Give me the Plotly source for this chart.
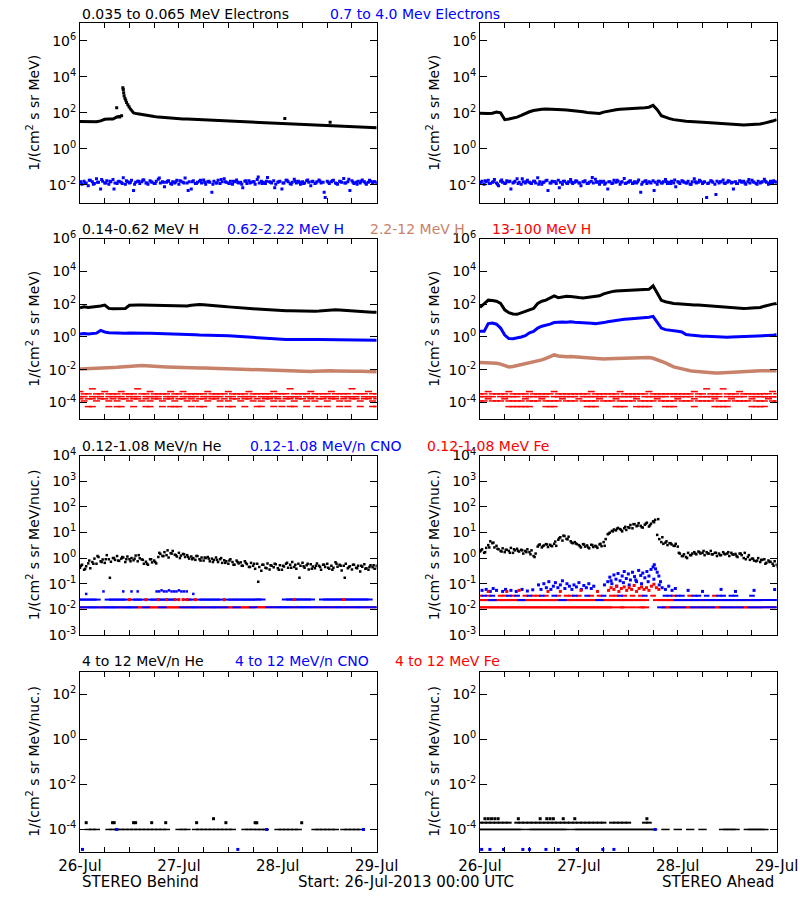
import plotly.graph_objects as go

N = None

# ---------------- text content ----------------
X_TICK_HOURS = [0, 24, 48, 72]
X_TICK_LABELS = ["26-Jul", "27-Jul", "28-Jul", "29-Jul"]
X_MINOR_HOURS = [6, 12, 18, 30, 36, 42, 54, 60, 66]
FOOT_LEFT = "STEREO Behind"
FOOT_MID = "Start: 26-Jul-2013 00:00 UTC"
FOOT_RIGHT = "STEREO Ahead"

ROW_TITLES = [
    ["0.035 to 0.065 MeV Electrons", "0.7 to 4.0 Mev Electrons"],
    ["0.14-0.62 MeV H", "0.62-2.22 MeV H", "2.2-12 MeV H", "13-100 MeV H"],
    ["0.12-1.08 MeV/n He", "0.12-1.08 MeV/n CNO", "0.12-1.08 MeV Fe"],
    ["4 to 12 MeV/n He", "4 to 12 MeV/n CNO", "4 to 12 MeV Fe"],
]
Y_LABELS = ["1/(cm<sup>2</sup> s sr MeV)", "1/(cm<sup>2</sup> s sr MeV)",
            "1/(cm<sup>2</sup> s sr MeV/nuc.)", "1/(cm<sup>2</sup> s sr MeV/nuc.)"]
Y_DECADES = [[-2, 0, 2, 4, 6], [-4, -2, 0, 2, 4, 6],
             [-3, -2, -1, 0, 1, 2, 3, 4], [-4, -2, 0, 2]]

# ---------------- row 1 : electrons ----------------
# STEREO Behind, 0.035-0.065 MeV (hourly)
E_LO_B = [33, 32, 33, 31, 32, 36, 44, 46, 45, 60, 58, N,
          190, 100, 88, 80, 70, 66, 62, 58, 55, 53, 52, 50,
          48, 46, 45, 44, 42, 41, 40, 40, 39, 38, 37, 36,
          35, 34, 34, 33, 32, 32, 31, 31, 30, 30, 29, 28,
          27, 26, 26, 25, 25, 24, 24, 23, 23, 22, 22, 22,
          21, 21, 20, 20, 19, 19, 18, 18, 18, 17, 17, 16, 15]
E_LO_B_SPIKE_T = [8.9, 9.6, 10.1, 10.4, 10.5, 10.6, 10.7, 10.9, 11.1, 11.3, 11.6, 11.9, 49.7, 60.7]
E_LO_B_SPIKE_V = [190, 62, 70, 2500, 2000, 1300, 900, 650, 500, 380, 280, 220, 48, 30]
# STEREO Behind, 0.7-4.0 MeV (half-hourly + hourly)
E_HI_B = [0.014, 0.011, 0.016, 0.013, 0.009, 0.018, 0.015, 0.012, 0.022, 0.014, 0.006, 0.016,
          0.013, 0.017, 0.011, 0.015, 0.02, 0.013, 0.012, 0.016, 0.014, 0.025, 0.011, 0.015,
          0.013, 0.018, 0.005, 0.014, 0.016, 0.012, 0.015, 0.019, 0.013, 0.011, 0.017, 0.014,
          0.012, 0.016, 0.021, 0.013, 0.015, 0.008, 0.014, 0.017, 0.012, 0.015, 0.013, 0.018,
          0.011, 0.016, 0.014, 0.024, 0.013, 0.015, 0.006, 0.017, 0.012, 0.014, 0.016, 0.013,
          0.019, 0.011, 0.015, 0.014, 0.004, 0.016, 0.013, 0.018, 0.012, 0.015, 0.022, 0.014,
          0.013, 0.016, 0.011, 0.015, 0.019, 0.013, 0.014, 0.007, 0.016, 0.012, 0.017, 0.014,
          0.015, 0.011, 0.02, 0.013, 0.016, 0.014, 0.012, 0.026, 0.015, 0.013, 0.017, 0.011,
          0.014, 0.016, 0.006, 0.013, 0.018, 0.015, 0.012, 0.014, 0.021, 0.013, 0.016, 0.011,
          0.015, 0.013, 0.017, 0.014, 0.009, 0.016, 0.012, 0.015, 0.019, 0.013, 0.014, 0.002,
          0.016, 0.012, 0.015, 0.018, 0.013, 0.011, 0.016, 0.014, 0.023, 0.013, 0.015, 0.005,
          0.017, 0.012, 0.014, 0.016, 0.013, 0.019, 0.015, 0.011, 0.014, 0.016, 0.013, 0.015, 0.014]
E_HI_B_X = [0.015, 0.012, 0.018, 0.011, 0.014, 0.02, 0.013, 0.016, 0.006, 0.015, 0.012, 0.017,
            0.014, 0.011, 0.016, 0.019, 0.013, 0.015, 0.012, 0.024, 0.014, 0.016, 0.011, 0.015,
            0.017, 0.013, 0.005, 0.015, 0.012, 0.018, 0.014, 0.016, 0.011, 0.013, 0.02, 0.015,
            0.012, 0.016, 0.014, 0.011, 0.017, 0.013, 0.015, 0.028, 0.012, 0.016, 0.014, 0.007,
            0.015, 0.013, 0.018, 0.011, 0.016, 0.014, 0.012, 0.019, 0.015, 0.013, 0.016, 0.004,
            0.014, 0.017, 0.012, 0.015, 0.013, 0.021, 0.014, 0.011, 0.016, 0.013, 0.018, 0.015, 0.012]
# STEREO Ahead
E_LO_A = [95, 90, 92, 95, 110, 100, 42, 46, 50, 58, 72, 95,
          115, 135, 150, 160, 165, 165, 162, 160, 150, 145, 140, 135,
          125, 115, 105, 100, 95, 92, 110, 125, 140, 150, 158, 165,
          175, 185, 190, 188, 190, 205, 260, 150, 70, 55, 48, 42,
          38, 36, 34, 33, 31, 30, 30, 29, 28, 27, 26, 25,
          24, 23, 22, 22, 21, 22, 22, 23, 24, 27, 30, 35, 42]
E_HI_A = [0.013, 0.016, 0.011, 0.015, 0.018, 0.012, 0.014, 0.02, 0.013, 0.009, 0.016, 0.014,
          0.012, 0.017, 0.015, 0.006, 0.013, 0.016, 0.022, 0.014, 0.011, 0.015, 0.013, 0.018,
          0.014, 0.012, 0.016, 0.013, 0.025, 0.015, 0.011, 0.014, 0.017, 0.005, 0.013, 0.016,
          0.015, 0.012, 0.018, 0.014, 0.011, 0.016, 0.013, 0.015, 0.02, 0.012, 0.014, 0.016,
          0.013, 0.009, 0.015, 0.017, 0.012, 0.014, 0.016, 0.013, 0.021, 0.015, 0.011, 0.014,
          0.016, 0.013, 0.006, 0.015, 0.012, 0.018, 0.014, 0.016, 0.011, 0.015, 0.023, 0.013,
          0.014, 0.017, 0.012, 0.015, 0.013, 0.019, 0.004, 0.014, 0.016, 0.012, 0.015, 0.013,
          0.017, 0.014, 0.011, 0.016, 0.013, 0.015, 0.02, 0.012, 0.014, 0.016, 0.013, 0.008,
          0.015, 0.012, 0.017, 0.014, 0.013, 0.016, 0.011, 0.015, 0.022, 0.013, 0.014, 0.016,
          0.012, 0.015, 0.002, 0.013, 0.017, 0.014, 0.011, 0.016, 0.013, 0.015, 0.019, 0.012,
          0.014, 0.016, 0.013, 0.006, 0.015, 0.012, 0.017, 0.014, 0.016, 0.011, 0.015, 0.013,
          0.018, 0.014, 0.012, 0.016, 0.013, 0.015, 0.021, 0.014, 0.011, 0.016, 0.013, 0.015, 0.014]
E_HI_A_X = [0.014, 0.017, 0.012, 0.015, 0.011, 0.019, 0.013, 0.016, 0.014, 0.012, 0.022, 0.015,
            0.013, 0.016, 0.011, 0.014, 0.018, 0.013, 0.015, 0.007, 0.016, 0.012, 0.014, 0.017,
            0.013, 0.015, 0.012, 0.026, 0.014, 0.016, 0.011, 0.015, 0.013, 0.018, 0.014, 0.012,
            0.016, 0.013, 0.015, 0.011, 0.017, 0.014, 0.005, 0.016, 0.013, 0.015, 0.012, 0.019,
            0.014, 0.016, 0.013, 0.011, 0.015, 0.018, 0.014, 0.012, 0.016, 0.003, 0.015, 0.013,
            0.017, 0.014, 0.012, 0.016, 0.013, 0.02, 0.015, 0.011, 0.014, 0.016, 0.013, 0.017, 0.015]

# ---------------- row 2 : protons (hourly) ----------------
H1_B = [60, 70, 62, 66, 68, 78, 88, 55, 52, 52, 53, 55,
        85, 90, 88, 90, 88, 87, 85, 86, 88, 84, 80, 76,
        75, 74, 78, 85, 92, 95, 93, 90, 86, 82, 78, 72,
        68, 64, 60, 58, 56, 54, 52, 50, 48, 46, 44, 42,
        41, 40, 40, 40, 39, 40, 39, 38, 38, 37, 38, 40,
        42, 44, 45, 44, 42, 38, 36, 35, 34, 34, 33, 32, 32]
H2_B = [1.5, 1.6, 1.5, 1.55, 1.7, 2.5, 2.0, 1.8, 1.75, 1.72, 1.75, 1.7,
        1.75, 1.78, 1.75, 1.72, 1.7, 1.7, 1.68, 1.65, 1.62, 1.6, 1.55, 1.52,
        1.5, 1.45, 1.42, 1.38, 1.35, 1.3, 1.3, 1.28, 1.25, 1.25, 1.22, 1.2,
        1.18, 1.15, 1.1, 1.05, 1.0, 0.98, 0.95, 0.9, 0.85, 0.8, 0.76, 0.74,
        0.72, 0.7, 0.7, 0.69, 0.68, 0.68, 0.68, 0.67, 0.68, 0.7, 0.7, 0.69,
        0.7, 0.71, 0.7, 0.69, 0.68, 0.67, 0.66, 0.66, 0.65, 0.65, 0.64, 0.64, 0.63]
H3_B = [0.011, 0.0115, 0.0112, 0.0118, 0.012, 0.0125, 0.013, 0.0135, 0.0138, 0.014, 0.0145, 0.015,
        0.0165, 0.018, 0.0185, 0.018, 0.0175, 0.0165, 0.016, 0.0158, 0.0155, 0.015, 0.0145, 0.014,
        0.0138, 0.0135, 0.0138, 0.0135, 0.013, 0.0128, 0.013, 0.0127, 0.0125, 0.0122, 0.0125, 0.012,
        0.0118, 0.0115, 0.0112, 0.011, 0.0108, 0.0106, 0.0105, 0.0102, 0.01, 0.0098, 0.0095, 0.0093,
        0.0091, 0.009, 0.0088, 0.0087, 0.0085, 0.008, 0.0075, 0.0072, 0.0078, 0.0082, 0.0085, 0.0086,
        0.0087, 0.0086, 0.0085, 0.0086, 0.0087, 0.0085, 0.0083, 0.0082, 0.008, 0.0081, 0.008, 0.0078, 0.0076]
H4_B_R1 = [4.7e-4, 3.4e-4, 3.4e-4, 6.9e-4, 3.4e-4, 3.4e-4, 4.7e-4, 3.4e-4, 3.4e-4, 3.4e-4, 4.7e-4, 3.4e-4,
           3.4e-4, 3.4e-4, 6.9e-4, 3.4e-4, 3.4e-4, 4.7e-4, 3.4e-4, 3.4e-4, 3.4e-4, 3.4e-4, 4.7e-4, 3.4e-4,
           3.4e-4, 4.7e-4, 3.4e-4, 3.4e-4, 3.4e-4, 3.4e-4, 3.4e-4, 4.7e-4, 3.4e-4, 3.4e-4, 3.4e-4, 3.4e-4,
           4.7e-4, 3.4e-4, 3.4e-4, 3.4e-4, 3.4e-4, 4.7e-4, 3.4e-4, 3.4e-4, 3.4e-4, 3.4e-4, 3.4e-4, 4.7e-4,
           3.4e-4, 3.4e-4, 3.4e-4, 6.9e-4, 3.4e-4, 3.4e-4, 3.4e-4, 3.4e-4, 4.7e-4, 3.4e-4, 3.4e-4, 3.4e-4,
           3.4e-4, 4.7e-4, 3.4e-4, 3.4e-4, 3.4e-4, 3.4e-4, 6.9e-4, 3.4e-4, 3.4e-4, 3.4e-4, 4.7e-4, 3.4e-4, 3.4e-4]
H4_B_R2 = [2.3e-4, 2.3e-4, N, 2.3e-4, 2.3e-4, 2.3e-4, N, 2.3e-4, 2.3e-4, 2.3e-4, 2.3e-4, N,
           2.3e-4, 2.3e-4, 2.3e-4, N, 2.3e-4, 2.3e-4, 2.3e-4, 2.3e-4, N, 2.3e-4, 2.3e-4, 2.3e-4,
           N, 2.3e-4, 2.3e-4, 2.3e-4, 2.3e-4, N, 2.3e-4, 2.3e-4, 2.3e-4, 2.3e-4, 2.3e-4, N,
           2.3e-4, 2.3e-4, N, 2.3e-4, 2.3e-4, 2.3e-4, 2.3e-4, N, 2.3e-4, 2.3e-4, 2.3e-4, 2.3e-4,
           2.3e-4, N, 2.3e-4, 2.3e-4, 2.3e-4, 2.3e-4, N, 2.3e-4, 2.3e-4, 2.3e-4, N, 2.3e-4,
           2.3e-4, 2.3e-4, 2.3e-4, N, 2.3e-4, 2.3e-4, 2.3e-4, 2.3e-4, N, 2.3e-4, 2.3e-4, 2.3e-4, 2.3e-4]
H4_B_R3 = [1.7e-4, 1.26e-4, 1.7e-4, 1.7e-4, 1.26e-4, 1.7e-4, 1.7e-4, 1.26e-4, 1.7e-4, 1.26e-4, 1.7e-4, 1.7e-4,
           1.26e-4, 1.7e-4, 1.7e-4, 1.26e-4, 1.7e-4, 1.26e-4, 1.7e-4, 1.7e-4, 1.26e-4, 1.7e-4, 1.7e-4, 1.26e-4,
           1.7e-4, 1.7e-4, 1.26e-4, 1.7e-4, 1.26e-4, 1.7e-4, 1.7e-4, 1.26e-4, 1.7e-4, 1.7e-4, 1.26e-4, 1.7e-4,
           1.26e-4, 1.7e-4, 1.7e-4, 1.26e-4, 1.7e-4, 1.7e-4, 1.26e-4, 1.7e-4, 1.26e-4, 1.7e-4, 1.7e-4, 1.26e-4,
           1.7e-4, 1.26e-4, 1.7e-4, 1.7e-4, 1.26e-4, 1.7e-4, 1.7e-4, 1.26e-4, 1.7e-4, 1.26e-4, 1.7e-4, 1.7e-4,
           1.26e-4, 1.7e-4, 1.7e-4, 1.26e-4, 1.7e-4, 1.26e-4, 1.7e-4, 1.7e-4, 1.26e-4, 1.7e-4, 1.7e-4, 1.26e-4, 1.7e-4]
H4_B_R4 = [N, N, 5.7e-5, 5.7e-5, N, N, N, 5.7e-5, N, 5.7e-5, 5.7e-5, N,
           N, 5.7e-5, N, N, 5.7e-5, 5.7e-5, N, N, 5.7e-5, N, 5.7e-5, 5.7e-5,
           5.7e-5, N, N, 5.7e-5, N, 5.7e-5, 5.7e-5, N, N, N, 5.7e-5, N,
           5.7e-5, 5.7e-5, N, N, 5.7e-5, N, N, 5.7e-5, 5.7e-5, N, N, 5.7e-5,
           N, 5.7e-5, N, 5.7e-5, 5.7e-5, N, N, 5.7e-5, N, N, 5.7e-5, N,
           5.7e-5, N, N, 5.7e-5, N, 5.7e-5, N, N, 5.7e-5, N, N, 5.7e-5, 5.7e-5]

H1_A = [63, 110, 175, 165, 150, 110, 45, 30, 25, 24, 28, 36,
        45, 55, 110, 150, 175, 240, 320, 250, 270, 300, 290, 260,
        250, 240, 260, 275, 280, 320, 420, 520, 580, 640, 660, 690,
        710, 720, 700, 710, 730, 800, 1300, 500, 170, 140, 120, 110,
        105, 100, 92, 90, 88, 90, 86, 80, 75, 70, 65, 63,
        60, 58, 57, 56, 55, 56, 57, 58, 62, 75, 90, 100, 110]
H2_A = [2.2, 2.2, 6.5, 7.0, 6.0, 3.5, 1.3, 0.8, 0.78, 0.85, 1.0, 1.2,
        1.8, 2.2, 3.5, 4.5, 5.0, 6.0, 7.5, 8.0, 8.2, 8.0, 8.5, 8.0,
        7.5, 7.2, 7.0, 6.8, 6.5, 6.8, 7.5, 8.5, 9.5, 10.5, 11.5, 12.0,
        12.5, 13.0, 13.5, 14.0, 14.5, 16.0, 18.0, 8.0, 3.5, 2.8, 2.5, 2.3,
        2.2, 2.0, 1.4, 1.3, 1.2, 1.15, 1.1, 1.1, 1.05, 1.0, 1.0, 0.95,
        0.95, 0.98, 1.0, 1.05, 1.05, 1.1, 1.1, 1.12, 1.15, 1.2, 1.2, 1.25, 1.4]
H3_A = [0.028, 0.027, 0.028, 0.026, 0.025, 0.022, 0.017, 0.015, 0.016, 0.018, 0.02, 0.024,
        0.028, 0.032, 0.036, 0.04, 0.05, 0.065, 0.08, 0.07, 0.065, 0.063, 0.065, 0.062,
        0.06, 0.058, 0.055, 0.05, 0.048, 0.047, 0.046, 0.047, 0.048, 0.046, 0.047, 0.048,
        0.05, 0.052, 0.055, 0.056, 0.057, 0.055, 0.05, 0.042, 0.035, 0.026, 0.02, 0.015,
        0.013, 0.011, 0.0095, 0.0088, 0.008, 0.0075, 0.007, 0.0068, 0.0066, 0.0064, 0.0063, 0.0065,
        0.0066, 0.0068, 0.0072, 0.0078, 0.0082, 0.0086, 0.0087, 0.0088, 0.0087, 0.0086, 0.0085, 0.0087, 0.0088]
H4_A_R1 = [3.4e-4, 3.4e-4, 4.7e-4, 3.4e-4, 3.4e-4, 3.4e-4, 3.4e-4, 4.7e-4, 3.4e-4, 3.4e-4, 3.4e-4, 3.4e-4,
           4.7e-4, 3.4e-4, 3.4e-4, 3.4e-4, 3.4e-4, 3.4e-4, 4.7e-4, 3.4e-4, 3.4e-4, 3.4e-4, 3.4e-4, 3.4e-4,
           3.4e-4, 3.4e-4, 3.4e-4, 4.7e-4, 3.4e-4, 3.4e-4, 3.4e-4, 3.4e-4, 3.4e-4, 3.4e-4, 4.7e-4, 3.4e-4,
           3.4e-4, 3.4e-4, 3.4e-4, 3.4e-4, 3.4e-4, 4.7e-4, 3.4e-4, 3.4e-4, 3.4e-4, 3.4e-4, 3.4e-4, 3.4e-4,
           3.4e-4, 3.4e-4, 3.4e-4, 3.4e-4, 4.7e-4, 3.4e-4, 3.4e-4, 6.9e-4, 3.4e-4, 3.4e-4, 3.4e-4, 6.9e-4,
           3.4e-4, 3.4e-4, 3.4e-4, 4.7e-4, 3.4e-4, 3.4e-4, 3.4e-4, 3.4e-4, 3.4e-4, 3.4e-4, 3.4e-4, 4.7e-4, 3.4e-4]
H4_A_R2 = [2.3e-4, 2.3e-4, 2.3e-4, 2.3e-4, N, 2.3e-4, 2.3e-4, 2.3e-4, 2.3e-4, 2.3e-4, N, 2.3e-4,
           2.3e-4, 2.3e-4, 2.3e-4, 2.3e-4, 2.3e-4, N, 2.3e-4, 2.3e-4, 2.3e-4, 2.3e-4, 2.3e-4, 2.3e-4,
           N, 2.3e-4, 2.3e-4, 2.3e-4, 2.3e-4, 2.3e-4, 2.3e-4, N, 2.3e-4, 2.3e-4, 2.3e-4, 2.3e-4,
           2.3e-4, 2.3e-4, 2.3e-4, N, 2.3e-4, 2.3e-4, 2.3e-4, 2.3e-4, 2.3e-4, 2.3e-4, N, 2.3e-4,
           2.3e-4, 2.3e-4, 2.3e-4, 2.3e-4, N, 2.3e-4, 2.3e-4, 2.3e-4, 2.3e-4, 2.3e-4, 2.3e-4, N,
           2.3e-4, 2.3e-4, 2.3e-4, 2.3e-4, 2.3e-4, N, 2.3e-4, 2.3e-4, 2.3e-4, 2.3e-4, 2.3e-4, 2.3e-4, 2.3e-4]
H4_A_R3 = [1.26e-4, 1.26e-4, 1.7e-4, 1.26e-4, 1.26e-4, 1.26e-4, 1.7e-4, 1.26e-4, 1.26e-4, 1.26e-4, 1.26e-4, 1.7e-4,
           1.26e-4, 1.26e-4, 1.26e-4, 1.7e-4, 1.26e-4, 1.26e-4, 1.26e-4, 1.26e-4, 1.7e-4, 1.26e-4, 1.26e-4, 1.26e-4,
           1.7e-4, 1.26e-4, 1.26e-4, 1.26e-4, 1.26e-4, 1.7e-4, 1.26e-4, 1.26e-4, 1.26e-4, 1.7e-4, 1.26e-4, 1.26e-4,
           1.26e-4, 1.26e-4, 1.7e-4, 1.26e-4, 1.26e-4, 1.26e-4, 1.26e-4, 1.7e-4, 1.26e-4, 1.26e-4, 1.26e-4, 1.26e-4,
           1.7e-4, 1.26e-4, 1.26e-4, 1.26e-4, 1.7e-4, 1.26e-4, 1.26e-4, 1.26e-4, 1.26e-4, 1.7e-4, 1.26e-4, 1.26e-4,
           1.26e-4, 1.7e-4, 1.26e-4, 1.26e-4, 1.26e-4, 1.26e-4, 1.7e-4, 1.26e-4, 1.26e-4, 1.26e-4, 1.7e-4, 1.26e-4, 1.26e-4]
H4_A_R4 = [N, N, N, N, N, N, N, 5.7e-5, 5.7e-5, 5.7e-5, 5.7e-5, 5.7e-5,
           5.7e-5, N, N, N, 5.7e-5, 5.7e-5, 5.7e-5, N, N, N, N, N,
           N, N, 5.7e-5, 5.7e-5, 5.7e-5, N, N, N, N, 5.7e-5, 5.7e-5, 5.7e-5,
           N, N, 5.7e-5, 5.7e-5, 5.7e-5, 5.7e-5, N, N, N, 5.7e-5, 5.7e-5, 5.7e-5,
           N, N, N, N, 5.7e-5, N, N, N, N, 5.7e-5, 5.7e-5, 5.7e-5,
           5.7e-5, N, N, N, N, N, 5.7e-5, 5.7e-5, 5.7e-5, 5.7e-5, N, N, N]

# ---------------- row 3 : 0.12-1.08 MeV/n ions ----------------
HE_B = [0.42, 0.55, 0.35, 0.48, 0.62, 0.4, 0.7, 0.95, 0.6, 1.1, 0.75, 0.88,
        0.65, 1.3, 0.9, 0.72, 1.0, 0.85, 1.2, 0.78, 0.95, 1.05, 0.7, 1.15,
        0.9, 1.0, 0.82, 1.25, 0.75, 0.98, 0.88, 0.6, 0.72, 0.55, 0.9, 0.68,
        0.8, 0.62, 1.1, 1.45, 1.2, 1.7, 1.3, 1.05, 1.55, 1.9, 1.35, 1.15,
        1.6, 1.25, 1.45, 1.1, 1.3, 0.95, 1.15, 1.0, 0.85, 1.2, 0.9, 1.05,
        0.8, 1.0, 1.1, 0.75, 0.95, 0.85, 1.05, 0.7, 0.9, 0.65, 0.82, 0.75,
        0.6, 0.9, 0.7, 0.55, 0.8, 0.62, 0.68, 0.5, 0.75, 0.58, 0.45, 0.65,
        0.5, 0.38, 0.6, 0.45, 0.32, 0.55, 0.42, 0.62, 0.36, 0.5, 0.44, 0.58,
        0.4, 0.52, 0.35, 0.47, 0.6, 0.42, 0.55, 0.7, 0.45, 0.38, 0.6, 0.5,
        0.65, 0.42, 0.52, 0.36, 0.58, 0.47, 0.4, 0.62, 0.5, 0.35, 0.55, 0.45,
        0.6, 0.38, 0.5, 0.42, 0.68, 0.46, 0.55, 0.33, 0.5, 0.6, 0.4, 0.48,
        0.36, 0.55, 0.42, 0.5, 0.3, 0.46, 0.58, 0.4, 0.35, 0.52, 0.44, 0.38, 0.5]
HE_B_X = [0.5, 0.38, 0.8, 0.6, 1.2, 0.7, 0.9, 0.17, 1.0, 0.8, 1.1, 0.9,
          0.75, 0.95, 1.3, 0.85, 0.6, 0.9, 0.7, 1.6, 1.2, 2.0, 1.5, 1.3,
          1.0, 1.4, 1.1, 0.9, 1.2, 0.8, 1.05, 0.95, 0.7, 0.85, 1.0, 0.65,
          0.8, 0.55, 0.7, 0.5, 0.65, 0.45, 0.6, 0.12, 0.55, 0.4, 0.52, 0.6,
          0.35, 0.5, 0.65, 0.42, 0.55, 0.17, 0.48, 0.6, 0.38, 0.5, 0.45, 0.55,
          0.42, 0.35, 0.6, 0.5, 0.17, 0.45, 0.55, 0.4, 0.5, 0.38, 0.45, 0.52, 0.4]
CNO_B_LO = [0.012, N, 0.012, 0.012, 0.012, N, 0.012, 0.012, 0.012, 0.012, N, 0.012,
            0.012, 0.012, N, N, 0.012, N, N, N, 0.012, N, N, N,
            N, 0.012, N, 0.012, 0.012, N, 0.012, N, 0.012, 0.012, N, 0.012,
            N, N, 0.012, N, N, N, 0.012, N, N, N, 0.012, N,
            0.012, 0.012, 0.012, 0.012, N, 0.012, 0.012, 0.012, 0.012, N, 0.012, N,
            0.012, N, 0.012, 0.012, N, 0.012, N, 0.012, 0.012, N, 0.012, N, 0.012]
FE_B_LO = [N, 0.012, N, N, N, 0.012, N, N, N, N, 0.012, N,
           N, N, 0.012, 0.012, N, 0.012, 0.012, 0.012, N, 0.012, 0.012, 0.012,
           0.012, N, 0.012, N, N, 0.012, N, 0.012, N, N, 0.012, N,
           0.012, 0.012, N, 0.012, 0.012, 0.012, N, 0.012, 0.012, 0.012, N, 0.012,
           N, N, N, N, 0.012, N, N, N, N, 0.012, N, 0.012,
           N, 0.012, N, N, 0.012, N, 0.012, N, N, 0.012, N, 0.012, N]
CNO_B_MID = [0.024, 0.024, 0.024, 0.024, 0.024, N, N, 0.024, 0.024, 0.024, 0.024, 0.024,
             N, 0.024, 0.024, 0.024, N, 0.024, 0.024, 0.024, 0.024, 0.024, 0.024, 0.024,
             N, N, 0.024, 0.024, N, 0.024, 0.024, 0.024, 0.024, 0.024, 0.024, N,
             0.024, 0.024, 0.024, 0.024, 0.024, 0.024, 0.024, 0.024, 0.024, N, N, N,
             N, N, 0.024, 0.024, 0.024, 0.024, 0.024, 0.024, 0.024, N, N, 0.024,
             0.024, 0.024, 0.024, 0.024, 0.024, 0.024, 0.024, 0.024, 0.024, 0.024, 0.024, N, N]
FE_B_MID_T = [12, 16, 19, 21, 23, 24, 25, 26, 28, 35, 52, 64]
FE_B_MID_V = [0.024, 0.024, 0.024, 0.024, 0.024, 0.024, 0.024, 0.024, 0.024, 0.024, 0.024, 0.024]
CNO_B_HI_T = [1.5, 5.7, 10.5, 12.5, 14.0, 18.6, 19.2, 19.8, 20.4, 21.0, 21.6, 22.2, 22.8,
              23.4, 24.0, 24.6, 25.2, 25.9, 27.5]
CNO_B_HI_V = [0.04, 0.05, 0.05, 0.05, 0.05, 0.05, 0.05, 0.055, 0.05, 0.05, 0.055, 0.05, 0.05,
              0.05, 0.055, 0.05, 0.05, 0.05, 0.04]

HE_A = [1.8, 2.2, 1.6, 2.5, 3.2, 4.5, 3.8, 2.6, 3.0, 2.2, 1.9, 2.4,
        1.7, 2.1, 1.9, 2.5, 1.6, 2.0, 2.3, 1.8, 2.1, 1.5, 1.9, 2.2,
        1.7, 2.0, 1.2, 1.5, 2.8, 3.4, 2.6, 3.1, 3.5, 2.7, 3.3, 2.9,
        3.6, 3.0, 5.2, 6.5, 4.8, 7.2, 5.6, 6.8, 4.5, 3.8, 4.2, 3.5,
        3.2, 2.6, 3.5, 2.8, 3.1, 2.4, 3.3, 2.7, 3.0, 2.5, 3.4, 2.9,
        4.2, 5.5, 8.5, 9.8, 11.5, 13.0, 12.0, 15.0, 13.5, 11.0, 14.5, 12.5,
        16.0, 19.5, 14.5, 21.0, 17.5, 23.0, 18.0, 15.5, 20.0, 24.0, 17.0, 22.0,
        27.0, 31.0, 8.0, 5.5, 4.2, 3.6, 4.0, 3.2, 3.8, 3.4, 3.0, 3.6,
        2.8, 1.5, 1.2, 1.4, 1.1, 1.6, 1.3, 1.5, 1.7, 1.4, 1.8, 1.5,
        1.6, 1.3, 1.7, 1.5, 1.9, 1.4, 1.6, 1.2, 1.5, 1.3, 1.7, 1.4,
        1.5, 1.2, 1.6, 1.35, 1.45, 1.1, 1.5, 1.3, 1.0, 0.9, 1.1, 0.85,
        0.95, 0.8, 0.75, 1.0, 0.7, 0.85, 0.9, 0.65, 0.8, 0.72, 0.6, 0.75, 0.55]
HE_A_X = [2.0, 1.7, 2.6, 4.0, 2.3, 1.8, 2.1, 1.6, 2.2, 1.9, 2.0, 1.7,
          1.4, 1.1, 3.2, 2.9, 3.4, 3.0, 4.4, 6.0, 7.5, 5.4, 4.0, 3.7,
          2.9, 3.4, 2.6, 3.2, 2.8, 3.6, 3.0, 9.0, 11.0, 14.0, 12.5, 16.5,
          15.0, 21.0, 18.5, 16.0, 22.0, 19.0, 25.0, 33.0, 6.5, 4.5, 3.8, 3.0,
          1.6, 1.2, 1.0, 1.3, 1.5, 1.7, 1.9, 1.5, 1.4, 1.6, 1.3, 1.5,
          1.7, 1.4, 1.2, 1.5, 1.6, 1.3, 0.95, 0.8, 0.85, 0.6, 0.7, 0.5, 0.45]
FE_A_LO = [0.012, 0.012, 0.012, 0.012, 0.012, 0.012, 0.012, 0.012, 0.012, 0.012, 0.012, 0.012,
           0.012, 0.012, 0.012, 0.012, 0.012, 0.012, 0.012, 0.012, 0.012, 0.012, 0.012, 0.012,
           0.012, 0.012, 0.012, 0.012, 0.012, 0.012, 0.012, 0.012, 0.012, N, 0.012, 0.012,
           N, 0.012, N, 0.012, 0.012, N, N, N, N, 0.012, 0.012, N,
           0.012, N, 0.012, 0.012, N, 0.012, N, 0.012, N, 0.012, 0.012, N,
           0.012, N, 0.012, N, 0.012, 0.012, N, 0.012, N, 0.012, N, 0.012, N]
CNO_A_LO = [N, N, N, N, N, N, N, N, N, N, N, N,
            N, N, N, N, N, N, N, N, N, N, N, N,
            N, N, N, N, N, N, N, N, N, N, N, N,
            N, N, N, N, N, N, N, N, 0.012, N, N, 0.012,
            N, 0.012, N, N, 0.012, N, 0.012, N, 0.012, N, N, 0.012,
            N, 0.012, N, 0.012, N, N, 0.012, N, 0.012, N, 0.012, N, 0.012]
FE_A_MID = [0.023, 0.023, 0.023, 0.023, 0.023, 0.023, 0.023, 0.023, 0.023, 0.023, 0.023, 0.023,
            0.023, 0.023, 0.023, 0.023, 0.023, 0.023, 0.023, 0.023, N, 0.023, 0.023, 0.023,
            0.023, 0.023, 0.023, 0.023, 0.023, N, 0.023, 0.023, 0.023, 0.023, 0.023, 0.023,
            0.023, 0.023, 0.023, 0.023, 0.023, N, N, 0.023, 0.023, 0.023, 0.023, 0.023,
            N, N, 0.023, N, N, N, 0.023, N, N, N, 0.023, N,
            N, N, 0.023, N, N, 0.023, N, N, N, 0.023, N, N, N]
CNO_A_MID = [N, N, N, 0.023, N, N, N, N, N, N, 0.023, N,
             N, N, N, N, N, N, N, N, 0.023, N, N, N,
             N, N, N, N, N, 0.023, N, N, N, N, N, N,
             N, N, N, N, N, N, N, N, N, N, N, N,
             0.023, 0.023, N, 0.023, 0.023, 0.023, N, 0.023, 0.023, 0.023, N, 0.023,
             0.023, 0.023, N, 0.023, 0.023, N, 0.023, 0.023, 0.023, N, 0.023, 0.023, 0.023]
FE_A_R3 = [0.034, N, 0.034, N, N, 0.034, 0.034, N, 0.034, N, N, 0.034,
           N, 0.034, 0.034, N, 0.034, N, N, 0.034, N, 0.034, 0.034, N,
           0.034, N, N, 0.034, N, 0.034, N, N, 0.034, 0.034, N, 0.034,
           N, 0.034, N, 0.034, N, N, 0.034, N, N, N, N, 0.034,
           N, N, N, 0.034, N, N, N, N, N, 0.034, N, N,
           N, N, N, N, N, N, N, N, N, N, N, N, N]
CNO_A_R3 = [N, 0.034, N, 0.034, N, N, N, 0.034, N, 0.034, N, N,
            0.034, N, N, 0.034, N, N, 0.034, N, N, N, N, 0.034,
            N, N, 0.034, N, N, N, 0.034, N, N, N, 0.034, N,
            N, N, N, N, 0.034, N, N, N, N, 0.034, 0.034, N,
            0.034, 0.034, N, N, 0.034, 0.034, N, 0.034, N, N, 0.034, 0.034,
            N, 0.034, 0.034, N, N, N, 0.034, N, N, N, N, N, N]
CNO_A_SC_T = [0.5, 1.5, 2.5, 3.2, 4.0, 5.5, 6.2, 7.5, 8.8, 10.2, 11.5, 12.8,
              14.2, 14.8, 15.5, 16.1, 16.7, 17.2, 17.8, 18.3, 18.9, 19.5, 20.0, 20.6,
              21.1, 21.7, 22.3, 22.8, 23.4, 24.0, 24.6, 25.2, 25.8, 26.4, 27.0, 27.6,
              30.2, 31.0, 31.5, 31.8, 32.0, 32.5, 33.0, 33.2, 33.5, 34.0, 34.5, 34.8,
              35.0, 35.5, 36.0, 36.2, 36.5, 37.0, 37.5, 37.8, 38.0, 38.5, 39.0, 39.2,
              39.5, 40.0, 40.5, 40.8, 41.0, 41.5, 42.0, 42.2, 42.3, 42.6, 43.0, 43.4,
              43.5, 43.8, 44.2, 45.0, 45.8, 46.6, 47.4, 50.5, 54.0, 58.5, 62.0, 66.5, 71.5]
CNO_A_SC_V = [0.055, 0.06, 0.05, 0.065, 0.055, 0.05, 0.06, 0.055, 0.05, 0.06, 0.052, 0.058,
              0.09, 0.06, 0.1, 0.07, 0.12, 0.06, 0.08, 0.11, 0.07, 0.09, 0.13, 0.065,
              0.1, 0.08, 0.06, 0.09, 0.075, 0.11, 0.06, 0.085, 0.07, 0.1, 0.065, 0.08,
              0.09, 0.12, 0.18, 0.13, 0.1, 0.22, 0.15, 0.08, 0.25, 0.13, 0.2, 0.11,
              0.3, 0.16, 0.24, 0.09, 0.14, 0.28, 0.19, 0.14, 0.12, 0.33, 0.21, 0.1,
              0.26, 0.17, 0.3, 0.12, 0.2, 0.36, 0.45, 0.15, 0.55, 0.38, 0.28, 0.2,
              0.09, 0.12, 0.07, 0.06, 0.08, 0.055, 0.065, 0.055, 0.05, 0.06, 0.05, 0.055, 0.06]
FE_A_SC_T = [2.0, 6.5, 9.5, 16.5, 19.5, 24.5, 28.5,
             31.2, 31.8, 32.5, 33.1, 33.7, 34.3, 35.0, 35.6, 36.2, 36.8, 37.4, 38.0, 38.6,
             39.2, 39.8, 40.4, 41.0, 41.6, 42.2, 42.8, 43.4]
FE_A_SC_V = [0.05, 0.05, 0.055, 0.05, 0.05, 0.055, 0.05,
             0.055, 0.07, 0.06, 0.08, 0.05, 0.065, 0.075, 0.055, 0.07, 0.06, 0.085, 0.05, 0.065,
             0.075, 0.06, 0.07, 0.055, 0.08, 0.095, 0.07, 0.06]

# ---------------- row 4 : 4-12 MeV/n ions ----------------
HE4_B_ROW = [N, N, 1e-4, 1e-4, 1e-4, N, N, 1e-4, 1e-4, 1e-4, 1e-4, 1e-4,
             1e-4, 1e-4, 1e-4, 1e-4, 1e-4, 1e-4, 1e-4, 1e-4, 1e-4, 1e-4, N, N,
             1e-4, 1e-4, 1e-4, N, 1e-4, 1e-4, 1e-4, 1e-4, 1e-4, 1e-4, 1e-4, 1e-4,
             1e-4, 1e-4, N, N, 1e-4, 1e-4, 1e-4, 1e-4, 1e-4, 1e-4, N, N,
             1e-4, 1e-4, 1e-4, 1e-4, 1e-4, 1e-4, N, N, N, 1e-4, 1e-4, 1e-4,
             1e-4, 1e-4, 1e-4, N, 1e-4, 1e-4, 1e-4, 1e-4, 1e-4, N, N, N, N]
HE4_B_PT_T = [1.5, 7.9, 8.3, 13.0, 13.5, 17.4, 20.8, 28.3, 32.4, 35.4, 42.5, 42.9, 53.8]
HE4_B_PT_V = [2e-4, 2e-4, 2e-4, 2e-4, 2e-4, 2e-4, 2e-4, 2e-4, 3e-4, 2e-4, 2e-4, 2e-4, 2e-4]
CNO4_B_T = [0.6, 8.9, 38.3, 45.3, 68.8]
CNO4_B_V = [1.3e-5, 1e-4, 1.3e-5, 1e-4, 1e-4]

HE4_A_ROW = [1e-4, 1e-4, 1e-4, 1e-4, 1e-4, 1e-4, 1e-4, 1e-4, 1e-4, 1e-4, 1e-4, N,
             1e-4, 1e-4, 1e-4, 1e-4, 1e-4, 1e-4, 1e-4, 1e-4, 1e-4, 1e-4, N, 1e-4,
             1e-4, 1e-4, 1e-4, 1e-4, 1e-4, 1e-4, 1e-4, 1e-4, 1e-4, 1e-4, 1e-4, 1e-4,
             1e-4, 1e-4, 1e-4, 1e-4, 1e-4, 1e-4, 1e-4, N, N, 1e-4, N, N,
             1e-4, N, N, 1e-4, N, N, 1e-4, N, N, N, N, 1e-4,
             1e-4, 1e-4, 1e-4, N, N, 1e-4, 1e-4, 1e-4, 1e-4, 1e-4, N, N, N]
HE4_A_R2 = [2e-4, 2e-4, 2e-4, 2e-4, 2e-4, 2e-4, 2e-4, 2e-4, N, 2e-4, 2e-4, 2e-4,
            2e-4, 2e-4, 2e-4, 2e-4, 2e-4, 2e-4, 2e-4, 2e-4, 2e-4, 2e-4, 2e-4, 2e-4,
            2e-4, 2e-4, 2e-4, 2e-4, 2e-4, 2e-4, 2e-4, N, 2e-4, 2e-4, 2e-4, 2e-4,
            2e-4, N, N, N, 2e-4, 2e-4, N, N, N, N, N, N,
            N, N, N, N, N, N, N, N, N, N, N, N,
            N, N, N, N, N, N, N, N, N, N, N, N, N]
HE4_A_PT_T = [1.2, 2.0, 2.8, 3.6, 4.4, 9.3, 14.6, 16.2, 17.0, 17.8, 20.2, 23.0, 40.5]
HE4_A_PT_V = [3e-4, 3e-4, 3e-4, 3e-4, 3e-4, 3e-4, 3e-4, 3e-4, 3e-4, 3e-4, 3e-4, 3e-4, 3e-4]
CNO4_A_T = [0.4, 2.4, 5.7, 10.4, 12.0, 16.0, 19.0, 23.6, 29.8, 32.5, 42.5]
CNO4_A_V = [1.3e-5, 1.3e-5, 1.3e-5, 1.3e-5, 1.3e-5, 1.3e-5, 1.3e-5, 1.3e-5, 1.3e-5, 1.3e-5, 1e-4]

# ================= figure =================
BLACK, BLUE, BROWN, RED = "#000000", "#0000ff", "#c8826a", "#ff0000"
FONT = "DejaVu Sans"
W, H = 800, 900
SPAN = 72.0


def times(vals, offset=0.0):
    n = len(vals)
    return [offset + SPAN * i / (n - 1) for i in range(n)]


def refs(p):
    return ("x" if p == 0 else f"x{p + 1}", "y" if p == 0 else f"y{p + 1}")


fig = go.Figure()


def add_line(p, y, color, width):
    xr, yr = refs(p)
    fig.add_trace(go.Scatter(x=times(y), y=y, mode="lines", connectgaps=False,
                             line=dict(color=color, width=width),
                             xaxis=xr, yaxis=yr, hoverinfo="skip"))


def add_dots(p, x, y, color, size=2.5):
    xr, yr = refs(p)
    fig.add_trace(go.Scatter(x=x, y=y, mode="markers",
                             marker=dict(symbol="square", size=size, color=color,
                                         line=dict(width=0)),
                             xaxis=xr, yaxis=yr, hoverinfo="skip"))


def add_dashes(p, y, color, length=6, width=2):
    xr, yr = refs(p)
    fig.add_trace(go.Scatter(x=times(y), y=y, mode="markers",
                             marker=dict(symbol="line-ew", size=length, color=color,
                                         line=dict(width=width, color=color)),
                             xaxis=xr, yaxis=yr, hoverinfo="skip"))


# row 1
add_line(0, E_LO_B, BLACK, 3)
add_dots(0, E_LO_B_SPIKE_T, E_LO_B_SPIKE_V, BLACK, 3)
add_dots(0, times(E_HI_B), E_HI_B, BLUE, 3)
add_dots(0, times(E_HI_B_X, 0.25), E_HI_B_X, BLUE, 3)
add_line(1, E_LO_A, BLACK, 3)
add_dots(1, times(E_HI_A), E_HI_A, BLUE, 3)
add_dots(1, times(E_HI_A_X, 0.25), E_HI_A_X, BLUE, 3)
# row 2
for p, (h1, h2, h3, reds) in zip((2, 3), (
        (H1_B, H2_B, H3_B, (H4_B_R1, H4_B_R2, H4_B_R3, H4_B_R4)),
        (H1_A, H2_A, H3_A, (H4_A_R1, H4_A_R2, H4_A_R3, H4_A_R4)))):
    for r in reds:
        add_dashes(p, r, RED, 5, 1.5)
    add_line(p, h3, BROWN, 3.5)
    add_line(p, h2, BLUE, 3)
    add_line(p, h1, BLACK, 3)
# row 3
add_dashes(4, FE_B_LO, RED)
add_dashes(4, CNO_B_LO, BLUE)
add_dashes(4, CNO_B_MID, BLUE)
add_dots(4, FE_B_MID_T, FE_B_MID_V, RED, 3)
add_dots(4, CNO_B_HI_T, CNO_B_HI_V, BLUE, 2.5)
add_dots(4, times(HE_B), HE_B, BLACK, 2.5)
add_dots(4, times(HE_B_X, 0.25), HE_B_X, BLACK, 2.5)

add_dashes(5, FE_A_LO, RED)
add_dashes(5, CNO_A_LO, BLUE)
add_dashes(5, FE_A_MID, RED)
add_dashes(5, CNO_A_MID, BLUE)
add_dashes(5, FE_A_R3, RED, 4)
add_dashes(5, CNO_A_R3, BLUE, 4)
add_dots(5, CNO_A_SC_T, CNO_A_SC_V, BLUE, 3)
add_dots(5, FE_A_SC_T, FE_A_SC_V, RED, 3)
add_dots(5, times(HE_A), HE_A, BLACK, 2.5)
add_dots(5, times(HE_A_X, 0.25), HE_A_X, BLACK, 2.5)
# row 4
add_dashes(6, HE4_B_ROW, BLACK, 5, 1.5)
add_dots(6, HE4_B_PT_T, HE4_B_PT_V, BLACK, 3)
add_dots(6, CNO4_B_T, CNO4_B_V, BLUE, 3)
add_dashes(7, HE4_A_ROW, BLACK, 6, 1.5)
add_dashes(7, HE4_A_R2, BLACK, 4, 2)
add_dots(7, HE4_A_PT_T, HE4_A_PT_V, BLACK, 3)
add_dots(7, CNO4_A_T, CNO4_A_V, BLUE, 3)

# ---------------- axes ----------------
X_DOM = [[80 / W, 376.7 / W], [480 / W, 776.7 / W]]
ROW_PX = [(22.7, 203.0), (238.5, 419.0), (455.5, 635.0), (671.7, 852.0)]
Y_RANGE = [[-3, 7], [-5, 6], [-3, 4], [-5, 3]]

layout = dict(width=W, height=H,
              margin=dict(l=0, r=0, t=0, b=0, pad=0, autoexpand=False),
              paper_bgcolor="white", plot_bgcolor="white", showlegend=False,
              font=dict(family=FONT, color="black", size=14))
for p in range(8):
    row, col = divmod(p, 2)
    xr, yr = refs(p)
    xk = "xaxis" if p == 0 else f"xaxis{p + 1}"
    yk = "yaxis" if p == 0 else f"yaxis{p + 1}"
    top, bot = ROW_PX[row]
    layout[xk] = dict(domain=X_DOM[col], range=[0, SPAN], anchor=yr, automargin=False,
                      tickmode="array", tickvals=X_TICK_HOURS, ticktext=X_TICK_LABELS,
                      showticklabels=(row == 3), ticks="inside", ticklen=5,
                      tickcolor="black", tickwidth=1,
                      minor=dict(tickmode="array", tickvals=X_MINOR_HOURS, ticks="inside",
                                 ticklen=5, tickcolor="black", tickwidth=1, showgrid=False),
                      showline=True, linecolor="black",
                      linewidth=1, mirror="ticks", showgrid=False, zeroline=False,
                      tickfont=dict(family=FONT, size=15, color="black"))
    dec = Y_DECADES[row]
    layout[yk] = dict(domain=[1 - bot / H, 1 - top / H], type="log", range=Y_RANGE[row],
                      anchor=xr, automargin=False, tickmode="array",
                      tickvals=[10.0 ** d for d in dec],
                      ticktext=[f"10<sup>{d}</sup>" for d in dec],
                      ticks="inside", ticklen=7, tickcolor="black", tickwidth=1,
                      showline=True, linecolor="black", linewidth=1, mirror="ticks",
                      showgrid=False, zeroline=False,
                      tickfont=dict(family=FONT, size=14, color="black"))
fig.update_layout(**layout)

# ---------------- annotations ----------------
TITLE_X = [[80, 328], [80, 225, 368, 490], [80, 248, 425], [80, 233, 393]]
TITLE_C = [[BLACK, BLUE], [BLACK, BLUE, BROWN, RED], [BLACK, BLUE, RED], [BLACK, BLUE, RED]]
TITLE_Y = [13.5, 229, 445.5, 661]
ann = []
for r in range(4):
    for text, xp, c in zip(ROW_TITLES[r], TITLE_X[r], TITLE_C[r]):
        ann.append(dict(text=text, x=xp / W, y=1 - TITLE_Y[r] / H, xref="paper", yref="paper",
                        xanchor="left", yanchor="middle", showarrow=False,
                        font=dict(family=FONT, size=14, color=c)))
    top, bot = ROW_PX[r]
    for xp in (33, 433):
        ann.append(dict(text=Y_LABELS[r], x=xp / W, y=1 - (top + bot) / 2 / H,
                        xref="paper", yref="paper", xanchor="center", yanchor="middle",
                        textangle=-90, showarrow=False,
                        font=dict(family=FONT, size=14, color="black")))
FOOT_Y = 1 - 882 / H
ann.append(dict(text=FOOT_LEFT, x=80 / W, y=FOOT_Y, xref="paper", yref="paper",
                xanchor="left", yanchor="middle", showarrow=False,
                font=dict(family=FONT, size=15, color="black")))
ann.append(dict(text=FOOT_MID, x=296 / W, y=FOOT_Y, xref="paper", yref="paper",
                xanchor="left", yanchor="middle", showarrow=False,
                font=dict(family=FONT, size=15, color="black")))
ann.append(dict(text=FOOT_RIGHT, x=776 / W, y=FOOT_Y, xref="paper", yref="paper",
                xanchor="right", yanchor="middle", showarrow=False,
                font=dict(family=FONT, size=15, color="black")))
fig.update_layout(annotations=ann)

# remove the browser's default 8px page margin so the figure sits at (0, 0)
fig.write_html("out.html", config={"displayModeBar": False},
               post_script="document.body.style.margin='0';"
                           "document.documentElement.style.overflow='hidden';")
